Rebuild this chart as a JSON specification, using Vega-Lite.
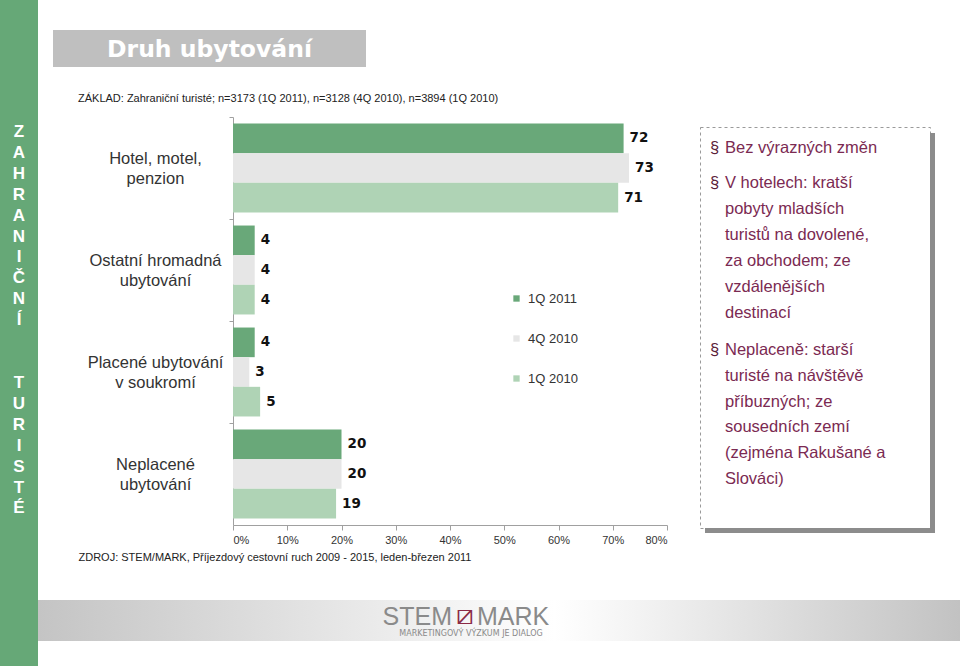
{
  "$schema": "https://vega.github.io/schema/vega-lite/v6.json",
  "padding": 0,
  "background": "white",
  "spacing": 0,
  "bounds": "flush",
  "config": {"view": {"stroke": null}, "font": "Liberation Sans", "concat": {"spacing": 0}},
  "hconcat": [
    {
      "width": 38, "height": 666,
      "view": {"fill": "#66a877", "stroke": null},
      "data": {"values": [{"a": "Z|A|H|R|A|N|I|Č|N|Í", "b": "T|U|R|I|S|T|É"}]},
      "layer": [
        {
          "mark": {"type": "text", "lineBreak": "|", "lineHeight": 20.9, "font": "Liberation Sans", "fontWeight": "bold", "fontSize": 17, "color": "white", "baseline": "middle", "align": "center", "dy": -201},
          "encoding": {"text": {"field": "a"}}
        },
        {
          "mark": {"type": "text", "lineBreak": "|", "lineHeight": 20.9, "font": "Liberation Sans", "fontWeight": "bold", "fontSize": 17, "color": "white", "baseline": "middle", "align": "center", "dy": 50},
          "encoding": {"text": {"field": "b"}}
        }
      ]
    },
    {
      "vconcat": [
        {"width": 1, "height": 30, "data": {"values": [{}]}, "mark": "text", "encoding": {"text": {"value": ""}}},
        {
          "hconcat": [
            {"width": 15, "height": 37, "data": {"values": [{}]}, "mark": "text", "encoding": {"text": {"value": ""}}},
            {
              "width": 313, "height": 37,
              "view": {"fill": "#bfbfbf", "stroke": null},
              "data": {"values": [{"t": "Druh ubytování"}]},
              "mark": {"type": "text", "font": "DejaVu Sans", "fontWeight": "bold", "fontSize": 23.5, "color": "white", "baseline": "middle", "align": "center", "dy": 1},
              "encoding": {"text": {"field": "t"}}
            }
          ],
          "spacing": 0, "bounds": "flush"
        },
        {"width": 1, "height": 87, "data": {"values": [{}]}, "mark": "text", "encoding": {"text": {"value": ""}}},
        {
          "hconcat": [
            {"width": 195, "height": 408, "data": {"values": [{}]}, "mark": "text", "encoding": {"text": {"value": ""}}},
            {
              "width": 434, "height": 408,
              "title": {"text": "ZÁKLAD: Zahraniční turisté; n=3173 (1Q 2011), n=3128 (4Q 2010), n=3894 (1Q 2010)", "anchor": "start", "frame": "group", "dx": -155, "offset": 13, "fontSize": 11, "fontWeight": "normal", "font": "Liberation Sans", "color": "#222222"},
              "data": {"values": [
                {"cat": "Hotel, motel,|penzion", "period": "1Q 2011", "pct": 72},
                {"cat": "Hotel, motel,|penzion", "period": "4Q 2010", "pct": 73},
                {"cat": "Hotel, motel,|penzion", "period": "1Q 2010", "pct": 71},
                {"cat": "Ostatní hromadná|ubytování", "period": "1Q 2011", "pct": 4},
                {"cat": "Ostatní hromadná|ubytování", "period": "4Q 2010", "pct": 4},
                {"cat": "Ostatní hromadná|ubytování", "period": "1Q 2010", "pct": 4},
                {"cat": "Placené ubytování|v soukromí", "period": "1Q 2011", "pct": 4},
                {"cat": "Placené ubytování|v soukromí", "period": "4Q 2010", "pct": 3},
                {"cat": "Placené ubytování|v soukromí", "period": "1Q 2010", "pct": 5},
                {"cat": "Neplacené|ubytování", "period": "1Q 2011", "pct": 20},
                {"cat": "Neplacené|ubytování", "period": "4Q 2010", "pct": 20},
                {"cat": "Neplacené|ubytování", "period": "1Q 2010", "pct": 19}
              ]},
              "encoding": {
                "y": {
                  "field": "cat", "type": "nominal",
                  "sort": ["Hotel, motel,|penzion", "Ostatní hromadná|ubytování", "Placené ubytování|v soukromí", "Neplacené|ubytování"],
                  "scale": {"paddingInner": 0, "paddingOuter": 0},
                  "axis": {"title": null, "domainColor": "#a0a0a0", "tickColor": "#a0a0a0", "tickSize": 4, "bandPosition": 0, "labelExpr": "split(datum.label, '|')", "labelAlign": "center", "labelBaseline": "middle", "labelOffset": -9, "labelPadding": 74, "labelFontSize": 16.5, "labelColor": "#333333", "labelLineHeight": 20, "labelFont": "Liberation Sans", "labelLimit": 300}
                },
                "yOffset": {"field": "period", "type": "nominal", "sort": ["1Q 2011", "4Q 2010", "1Q 2010"], "scale": {"paddingInner": 0, "paddingOuter": 0.22}},
                "x": {
                  "field": "pct", "type": "quantitative",
                  "scale": {"domain": [0, 80], "nice": false},
                  "axis": {"title": "ZDROJ: STEM/MARK, Příjezdový cestovní ruch 2009 - 2015, leden-březen 2011", "titleX": -155, "titleY": 32, "titleAlign": "left", "titleAnchor": "start", "titleBaseline": "middle", "titleFontSize": 11, "titleFontWeight": "normal", "titleFont": "Liberation Sans", "titleColor": "#222222", "values": [0, 10, 20, 30, 40, 50, 60, 70, 80], "labelExpr": "datum.value + '%'", "labelFontSize": 11, "labelColor": "#333333", "labelFont": "Liberation Sans", "labelPadding": 4, "domainColor": "#a0a0a0", "tickColor": "#a0a0a0", "tickSize": 5, "grid": false}
                }
              },
              "layer": [
                {
                  "mark": {"type": "bar"},
                  "encoding": {
                    "color": {
                      "field": "period", "type": "nominal",
                      "scale": {"domain": ["1Q 2011", "4Q 2010", "1Q 2010"], "range": ["#69a879", "#e6e6e6", "#afd3b5"]},
                      "legend": {"orient": "none", "legendX": 510, "legendY": 292, "title": null, "symbolType": "square", "symbolSize": 40, "symbolStrokeWidth": 0, "labelFontSize": 13, "labelColor": "#333333", "labelFont": "Liberation Sans", "rowPadding": 26, "labelOffset": 5}
                    }
                  }
                },
                {
                  "mark": {"type": "text", "align": "left", "baseline": "middle", "dx": 6, "font": "DejaVu Sans", "fontWeight": "bold", "fontSize": 13.5, "color": "#111111"},
                  "encoding": {"text": {"field": "pct", "type": "quantitative"}}
                }
              ]
            },
            {"width": 33, "height": 408, "data": {"values": [{}]}, "mark": "text", "encoding": {"text": {"value": ""}}},
            {
              "vconcat": [
                {"width": 1, "height": 10, "data": {"values": [{}]}, "mark": "text", "encoding": {"text": {"value": ""}}},
                {
                  "hconcat": [
                    {
                      "width": 230, "height": 401,
                      "view": {"fill": "white", "stroke": "#9a9a9a", "strokeDash": [3, 3], "strokeWidth": 1},
                      "data": {"values": [{"b": "§", "p1": "Bez výrazných změn", "p2": "V hotelech: kratší|pobyty mladších|turistů na dovolené,|za obchodem;  ze|vzdálenějších|destinací", "p3": "Neplaceně: starší|turisté na návštěvě|příbuzných; ze|sousedních zemí|(zejména Rakušané a|Slováci)"}]},
                      "layer": [
                        {"mark": {"type": "text", "font": "Liberation Sans", "fontSize": 16.5, "color": "#5a2038", "align": "left", "baseline": "middle", "dx": -105, "dy": -179.5}, "encoding": {"text": {"field": "b"}}},
                        {"mark": {"type": "text", "font": "Liberation Sans", "fontSize": 16.5, "color": "#5a2038", "align": "left", "baseline": "middle", "dx": -105, "dy": -144.5}, "encoding": {"text": {"field": "b"}}},
                        {"mark": {"type": "text", "font": "Liberation Sans", "fontSize": 16.5, "color": "#5a2038", "align": "left", "baseline": "middle", "dx": -105, "dy": 22.5}, "encoding": {"text": {"field": "b"}}},
                        {"mark": {"type": "text", "lineBreak": "|", "lineHeight": 26, "font": "Liberation Sans", "fontSize": 16.5, "color": "#7b2a52", "align": "left", "baseline": "middle", "dx": -90, "dy": -179.5}, "encoding": {"text": {"field": "p1"}}},
                        {"mark": {"type": "text", "lineBreak": "|", "lineHeight": 26, "font": "Liberation Sans", "fontSize": 16.5, "color": "#7b2a52", "align": "left", "baseline": "middle", "dx": -90, "dy": -144.5}, "encoding": {"text": {"field": "p2"}}},
                        {"mark": {"type": "text", "lineBreak": "|", "lineHeight": 25.8, "font": "Liberation Sans", "fontSize": 16.5, "color": "#7b2a52", "align": "left", "baseline": "middle", "dx": -90, "dy": 22.5}, "encoding": {"text": {"field": "p3"}}}
                      ]
                    },
                    {
                      "vconcat": [
                        {"width": 5, "height": 6, "data": {"values": [{}]}, "mark": "text", "encoding": {"text": {"value": ""}}},
                        {"width": 5, "height": 395, "view": {"fill": "#8c8c8c", "stroke": null}, "data": {"values": [{}]}, "mark": "text", "encoding": {"text": {"value": ""}}}
                      ],
                      "spacing": 0, "bounds": "flush"
                    }
                  ],
                  "spacing": 0, "bounds": "flush"
                },
                {"width": 1, "height": 401, "data": {"values": [{}]}, "mark": "text", "encoding": {"text": {"value": ""}}},
                {
                  "hconcat": [
                    {"width": 5, "height": 5, "data": {"values": [{}]}, "mark": "text", "encoding": {"text": {"value": ""}}},
                    {"width": 230, "height": 5, "view": {"fill": "#8c8c8c", "stroke": null}, "data": {"values": [{}]}, "mark": "text", "encoding": {"text": {"value": ""}}}
                  ],
                  "spacing": 0, "bounds": "flush"
                }
              ],
              "spacing": 0, "bounds": "flush"
            }
          ],
          "spacing": 0, "bounds": "flush"
        },
        {"width": 1, "height": 483, "data": {"values": [{}]}, "mark": "text", "encoding": {"text": {"value": ""}}},
        {
          "width": 922, "height": 41,
          "view": {"stroke": null, "fill": {"gradient": "linear", "x1": 0, "y1": 0, "x2": 1, "y2": 0, "stops": [{"offset": 0, "color": "#c4c4c4"}, {"offset": 0.38, "color": "#ececec"}, {"offset": 0.56, "color": "#ffffff"}, {"offset": 0.63, "color": "#f6f6f6"}, {"offset": 1, "color": "#c2c2c2"}]}},
          "data": {"values": [{"a": "STEM", "b": "MARK", "c": "MARKETINGOVÝ VÝZKUM JE DIALOG"}]},
          "layer": [
            {"mark": {"type": "text", "align": "right", "baseline": "alphabetic", "dx": -47, "dy": 4.5, "font": "Liberation Sans Narrow, Liberation Sans", "fontSize": 25, "color": "#8a8a8a"}, "encoding": {"text": {"field": "a"}}},
            {"mark": {"type": "text", "align": "left", "baseline": "alphabetic", "dx": -22, "dy": 4.5, "font": "Liberation Sans Narrow, Liberation Sans", "fontSize": 25, "color": "#8a8a8a"}, "encoding": {"text": {"field": "b"}}},
            {"mark": {"type": "text", "align": "center", "baseline": "middle", "dx": -34, "dy": -5, "font": "DejaVu Sans", "fontSize": 28, "color": "#8b2a45"}, "encoding": {"text": {"value": "⧄"}}},
            {"mark": {"type": "text", "align": "center", "baseline": "middle", "dx": -28, "dy": 13.5, "font": "DejaVu Sans", "fontSize": 8, "color": "#8a8a8a"}, "encoding": {"text": {"field": "c"}}}
          ]
        }
      ],
      "spacing": 0, "bounds": "flush"
    }
  ]
}
